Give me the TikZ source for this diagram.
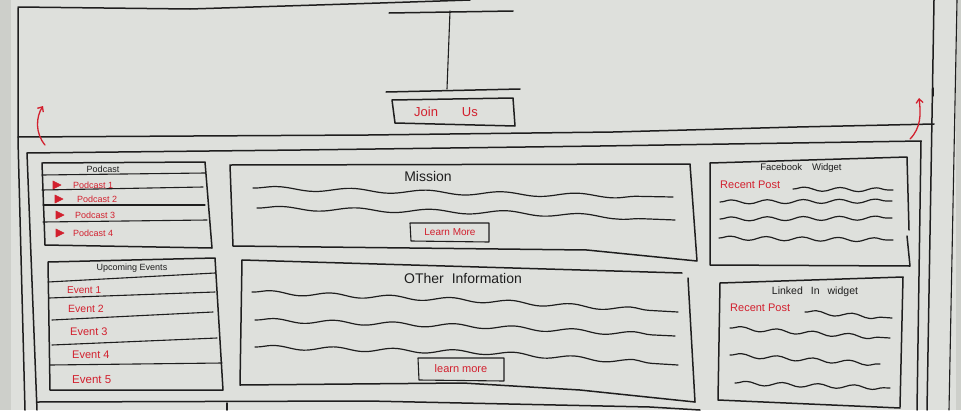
\documentclass[tikz,border=0pt]{standalone}
\usepackage{fontspec}
\setmainfont{Liberation Sans}
\usetikzlibrary{decorations.pathmorphing,arrows.meta}
\definecolor{board}{HTML}{DEE0DC}
\definecolor{boardedge}{HTML}{CDCFCA}
\definecolor{ink}{HTML}{1E1E1E}
\definecolor{marker}{HTML}{D2202E}
\newcommand{\handsize}[1]{\fontsize{#1}{#1}\selectfont}
\begin{document}
\begin{tikzpicture}[x=1pt,y=-1pt,
  pen/.style={draw=ink,line width=1.5pt,line cap=round,line join=round},
  finepen/.style={draw=ink,line width=1.1pt,line cap=round,line join=round},
  wave/.style={draw=ink,line width=1.2pt,line cap=round,decorate,
    decoration={snake,amplitude=2pt,segment length=#1}},
  wave/.default=34pt,
  redpen/.style={draw=marker,line width=1.3pt,line cap=round,line join=round},
  label/.style={inner sep=0pt,text=ink},
  redlabel/.style={inner sep=0pt,text=marker},
  play/.style={fill=marker,draw=marker,line join=round,line width=0.6pt}
]
\useasboundingbox (0,0) rectangle (961,410);
\fill[board] (0,0) rectangle (961,410);
\fill[boardedge] (0,0) rectangle (11,410);
\fill[boardedge] (956,0) rectangle (961,410);

% ---- page frame and header ----
\draw[pen] (18,7) -- (190,9) -- (380,3) -- (470,0);
\draw[pen] (18,8) -- (18,140) -- (25,410);
\draw[pen] (934,0) -- (927,410);
\draw[finepen] (957,0) -- (949,410);
\draw[pen] (18,137) -- (368,135) -- (613,132) -- (797,127) -- (934,124);
\draw[pen] (933,88) -- (933,96);

% logo placeholder
\draw[pen] (389,13) -- (513,11);
\draw[finepen] (450,11) -- (447,89);
\draw[pen] (386,92) -- (520,89);

% join button
\draw[pen] (392,100) -- (513,98) -- (515,126) -- (395,123) -- cycle;
\node[redlabel,font=\handsize{13}] (join) at (446,112) {Join\hspace{24pt}Us};

% sticky header arrows
\draw[redpen,-{Straight Barb[length=4pt,width=7pt]}] (45,145) .. controls (35,133) and (36,117) .. (43,106);
\draw[redpen,-{Straight Barb[length=4pt,width=7pt]}] (910,139) .. controls (921,128) and (921,114) .. (919,98);

% ---- content container ----
\draw[pen] (27,153) -- (300,150) -- (600,146) -- (921,141);
\draw[pen] (27,153) -- (37,410);
\draw[pen] (921,141) -- (917,410);
\draw[pen] (37,402) -- (368,401) -- (650,407) -- (700,410);
\draw[pen] (227,403) -- (227,410);

% ---- podcast list ----
\draw[pen] (42,163) -- (205,162) -- (212,248) -- (45,245) -- cycle;
\draw[finepen] (42,175) -- (205,173);
\draw[finepen] (42,190) -- (203,187);
\draw[finepen] (43,205) -- (205,205);
\draw[finepen] (43,222) -- (207,220);
\node[label,font=\handsize{9}] (podcasts) at (103,169) {Podcast};
\foreach \i/\tx/\ty/\px in {1/73/185/53, 2/77/199/55, 3/75/215/56, 4/73/233/56}{
  \node[redlabel,font=\handsize{9},anchor=west] (podcast\i) at (\tx,\ty) {Podcast \i};
  \fill[play] (\px,\ty-4) -- (\px+8,\ty) -- (\px,\ty+4) -- cycle;
}

% ---- upcoming events ----
\draw[pen] (48,262) -- (215,258) -- (223,390) -- (50,390) -- cycle;
\draw[finepen] (48,282) -- (215,273);
\draw[finepen] (49,298) -- (215,292);
\draw[finepen] (52,320) -- (213,312);
\draw[finepen] (52,345) -- (217,338);
\draw[finepen] (50,365) -- (222,363);
\node[label,font=\handsize{9}] (events) at (132,268) {Upcoming Events};
\foreach \i/\tx/\ty/\sz in {1/67/290/10, 2/68/309/10.5, 3/70/332/11, 4/72/355/11, 5/72/380/11.5}{
  \node[redlabel,font=\handsize{\sz},anchor=west] (event\i) at (\tx,\ty) {Event \i};
}

% ---- mission ----
\draw[pen] (230,165) -- (690,164) -- (697,261) -- (587,250) -- (233,246) -- cycle;
\node[label,font=\handsize{14}] (mission) at (428,176) {Mission};
\draw[wave=75pt] (253,188) -- (463,193) -- (673,197);
\draw[wave=75pt] (257,208) -- (470,212) -- (675,220);
\draw[finepen] (410,223) -- (489,223) -- (489,242) -- (411,241) -- cycle;
\node[redlabel,font=\handsize{10}] (missionmore) at (450,232) {Learn More};

% ---- other information ----
\draw[pen] (242,260) -- (682,273);
\draw[pen] (688,278) -- (695,402);
\draw[pen] (242,260) -- (240,385) -- (463,383) -- (580,390) -- (695,402);
\node[label,font=\handsize{14}] (other) at (463,278) {OTher\hspace{8pt}Information};
\draw[wave=60pt] (252,292) -- (463,300) -- (678,312);
\draw[wave=60pt] (255,320) -- (465,326) -- (675,336);
\draw[wave=60pt] (255,347) -- (465,352) -- (678,365);
\draw[finepen] (418,358) -- (504,358) -- (504,381) -- (419,380) -- cycle;
\node[redlabel,font=\handsize{11}] (othermore) at (461,369) {learn more};

% ---- facebook widget ----
\draw[pen] (710,163) -- (907,157) -- (909,230);
\draw[pen] (907,236) -- (910,266) -- (710,265) -- (710,163);
\node[label,font=\handsize{9.5}] (facebook) at (801,168) {Facebook\hspace{10pt}Widget};
\node[redlabel,font=\handsize{11},anchor=west] (fbpost) at (720,185) {Recent Post};
\draw[wave=36pt] (793,189) -- (893,190);
\draw[wave=36pt] (720,202) -- (892,201);
\draw[wave=36pt] (720,219) -- (892,218);
\draw[wave=36pt] (719,238) -- (893,240);

% ---- linkedin widget ----
\draw[pen] (720,283) -- (903,277) -- (900,407);
\draw[pen] (720,283) -- (718,400) -- (900,408);
\node[label,font=\handsize{10.5}] (linkedin) at (815,292) {Linked\hspace{8pt}In\hspace{8pt}widget};
\node[redlabel,font=\handsize{11},anchor=west] (lipost) at (730,308) {Recent Post};
\draw[wave=36pt] (805,312) -- (892,318);
\draw[wave=36pt] (730,328) -- (890,338);
\draw[wave=36pt] (730,355) -- (880,364);
\draw[wave=36pt] (735,383) -- (890,388);
\end{tikzpicture}
\end{document}
